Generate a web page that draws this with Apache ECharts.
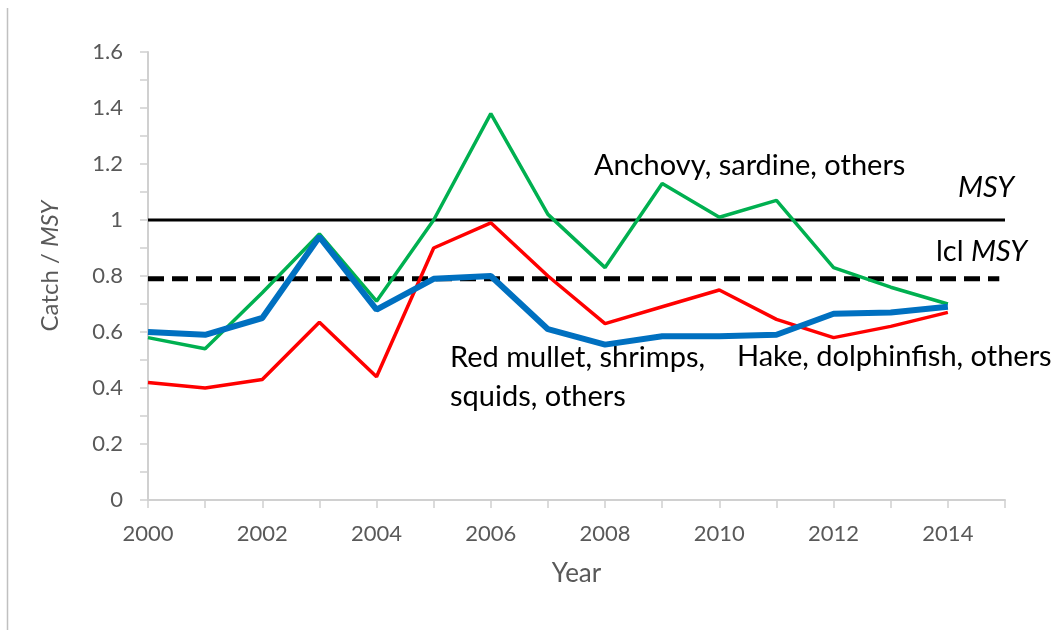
<!DOCTYPE html>
<html>
<head>
<meta charset="utf-8">
<script src="https://cdn.jsdelivr.net/npm/echarts@6/dist/echarts.min.js"></script>
<style>html,body{margin:0;padding:0;background:#fff}#c{width:1063px;height:630px}</style>
</head>
<body>
<div id="c"></div>
<script>
const years = [2000,2001,2002,2003,2004,2005,2006,2007,2008,2009,2010,2011,2012,2013,2014];
const anchovy = [0.58,0.54,0.74,0.95,0.71,1.00,1.38,1.02,0.83,1.13,1.01,1.07,0.83,0.76,0.70];
const redMullet = [0.42,0.40,0.43,0.635,0.44,0.90,0.99,0.80,0.63,0.69,0.75,0.645,0.58,0.62,0.67];
const hake = [0.60,0.59,0.65,0.94,0.68,0.79,0.80,0.61,0.555,0.585,0.585,0.59,0.665,0.67,0.69];
const msy = 1.0;
const lclMsy = 0.79;
const xRange = [2000, 2015];
const yTicks = [0,0.2,0.4,0.6,0.8,1,1.2,1.4,1.6];

const pair = (xs, ys) => xs.map((x,i)=>[x, ys[i]]);
const chart = echarts.init(document.getElementById('c'));
const FONT = 'Lato';
const ANN = '29px Lato';
chart.setOption({
  animation:false,
  backgroundColor:'#fff',
  grid:{left:148,right:58,top:52,bottom:130,containLabel:false},
  xAxis:{
    type:'value', min:xRange[0], max:xRange[1], interval:1,
    name:'Year', nameLocation:'middle', nameGap:61,
    nameTextStyle:{color:'#595959',fontSize:26,fontFamily:FONT},
    axisLine:{show:true,lineStyle:{color:'#D0D0D0',width:2}},
    axisTick:{show:true,length:8,inside:false,lineStyle:{color:'#D0D0D0',width:1.5}},
    splitLine:{show:false},
    axisLabel:{color:'#595959',fontSize:22,fontFamily:FONT,margin:23,
      formatter:v=> (years.indexOf(v)>=0 && v%2===0) ? String(v) : ''}
  },
  yAxis:{
    type:'value', min:yTicks[0], max:yTicks[yTicks.length-1], interval:0.1,
    name:'{n|Catch / }{i|MSY}', nameLocation:'middle', nameGap:86, nameRotate:90,
    nameTextStyle:{color:'#595959',fontSize:24,fontFamily:FONT,padding:[0,0,0,20],
      rich:{n:{color:'#595959',fontSize:24,fontFamily:FONT},i:{color:'#595959',fontSize:24,fontFamily:FONT,fontStyle:'italic'}}},
    axisLine:{show:true,lineStyle:{color:'#D0D0D0',width:2}},
    axisTick:{show:true,length:8,lineStyle:{color:'#D0D0D0',width:1.5}},
    splitLine:{show:false},
    axisLabel:{color:'#595959',fontSize:22,fontFamily:FONT,margin:25,
      formatter:v=>{const k=Math.round(v*10); if(k%2!==0) return ''; const t=yTicks.find(y=>Math.round(y*10)===k); return t===undefined?'':String(t);}}
  },
  series:[
    {type:'line',name:'MSY',data:[[xRange[0],msy],[xRange[1],msy]],symbol:'none',
      lineStyle:{color:'#000',width:3},z:2},
    {type:'line',name:'lcl MSY',data:[[xRange[0],lclMsy],[xRange[1]-0.1,lclMsy]],symbol:'none',
      lineStyle:{color:'#000',width:5,type:[16,8]},z:2},
    {type:'line',name:'Anchovy, sardine, others',data:pair(years,anchovy),symbol:'none',
      lineStyle:{color:'#00B050',width:3.5},z:3},
    {type:'line',name:'Red mullet, shrimps, squids, others',data:pair(years,redMullet),symbol:'none',
      lineStyle:{color:'#FF0000',width:3.5},z:3},
    {type:'line',name:'Hake, dolphinfish, others',data:pair(years,hake),symbol:'none',
      lineStyle:{color:'#0070C0',width:6},z:4}
  ],
  graphic:[
    {type:'line',shape:{x1:7.5,y1:8,x2:7.5,y2:630},style:{stroke:'#C0C0C0',lineWidth:1.5},silent:true},
    {type:'text',left:594,top:151,style:{text:'Anchovy, sardine, others',fill:'#000',font:ANN}},
    {type:'text',left:958,top:173,style:{text:'MSY',fill:'#000',font:'italic '+ANN}},
    {type:'text',left:936,top:237,style:{rich:{a:{fill:'#000',font:ANN},b:{fill:'#000',font:'italic '+ANN}},text:'{a|lcl }{b|MSY}'}},
    {type:'text',left:450,top:343,style:{text:'Red mullet, shrimps,',fill:'#000',font:ANN}},
    {type:'text',left:450,top:382,style:{text:'squids, others',fill:'#000',font:ANN}},
    {type:'text',left:737,top:342,style:{text:'Hake, dolphinfish, others',fill:'#000',font:ANN}}
  ]
});
</script>
</body>
</html>
